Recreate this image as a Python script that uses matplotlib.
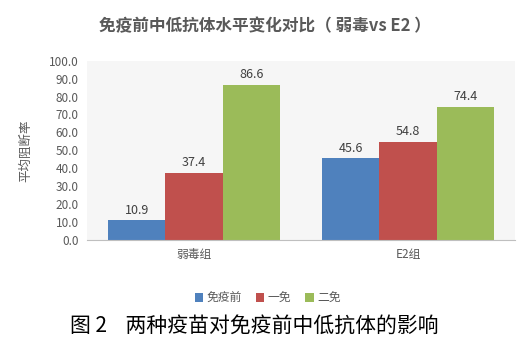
import numpy as np
import matplotlib.pyplot as plt

plt.rcParams['font.family'] = ['Noto Sans CJK SC', 'DejaVu Sans']

groups = ['弱毒组', 'E2组']
series = ['免疫前', '一免', '二免']
values = {
    '免疫前': [10.9, 45.6],
    '一免': [37.4, 54.8],
    '二免': [86.6, 74.4],
}
colors = ['#4F81BD', '#C0504D', '#9BBB59']
yticks = np.arange(0, 101, 10)

fig = plt.figure(figsize=(5.3, 3.55), dpi=100)
ax = fig.add_axes([0.164, 0.324, 0.808, 0.505])
ax.set_facecolor('#F6F6F6')

x = np.arange(len(groups))
w = 0.268
grey = '#595959'
for i, s in enumerate(series):
    pos = x + (i - 1) * w
    ax.bar(pos, values[s], width=w, color=colors[i], label=s)
    for px, v in zip(pos, values[s]):
        ax.text(px, v + 2, f'{v:.1f}', ha='center', va='bottom', fontsize=9, color='#404040')

ax.set_xlim(-0.5, 1.5)
ax.set_ylim(0, 100)
ax.set_yticks(yticks)
ax.set_yticklabels([f'{t:.1f}' for t in yticks], fontsize=8.5, color=grey)
ax.set_xticks(x)
ax.set_xticklabels(groups, fontsize=8.5, color=grey)
ax.tick_params(length=0, pad=6)
for sp in ['top', 'right', 'left']:
    ax.spines[sp].set_visible(False)
ax.spines['bottom'].set_color('#BFBFBF')
ax.set_ylabel('平均阻断率', fontsize=9, color=grey, labelpad=12)

fig.text(0.5, 0.925, '免疫前中低抗体水平变化对比（ 弱毒vs E2 ）', ha='center', va='center',
         fontsize=12, fontweight='bold', color=grey)
fig.legend(loc='center', bbox_to_anchor=(0.505, 0.16), ncol=3, frameon=False,
           fontsize=8.5, handlelength=0.7, handleheight=0.7, columnspacing=1.2,
           handletextpad=0.3, labelcolor=grey)
fig.text(0.48, 0.083, '图 2    两种疫苗对免疫前中低抗体的影响', ha='center', va='center',
         fontsize=15, color='black')

fig.savefig('out.png', dpi=100)
